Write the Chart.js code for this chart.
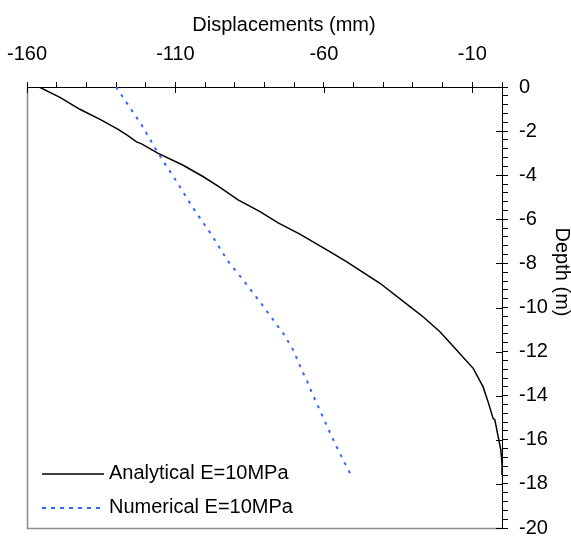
<!DOCTYPE html>
<html>
<head>
<meta charset="utf-8">
<title>Displacements vs Depth</title>
<script src="https://cdn.jsdelivr.net/npm/chart.js"></script>
<style>
  html, body { margin: 0; padding: 0; background: #fff; }
</style>
</head>
<body>
<canvas id="myChart" width="571" height="537"></canvas>
<script>
// Analytical E=10MPa (displacement mm, depth m)
let analyticalDisp = [-155.9, -148.9, -142.2, -135.4, -129.3, -125.9, -123.1, -121.4, -115.8, -107.4,
    -100.6, -95.0, -88.9, -81.5, -75.4, -68.1, -58.0, -52.4, -41.1, -31.0,
    -26.6, -20.9, -15.3, -9.7, -6.4, -4.7, -3.0, -2.4, -1.3, -0.4, 0, 0];
let analyticalDepth = [0, -0.47, -1.01, -1.47, -1.92, -2.22, -2.49, -2.58, -3.01, -3.55,
    -4.07, -4.55, -5.12, -5.65, -6.16, -6.67, -7.47, -7.92, -8.90, -9.96,
    -10.42, -11.1, -11.93, -12.76, -13.59, -14.27, -15.03, -15.1, -15.86, -16.46, -17.07, -17.6];

// Numerical E=10MPa
let numericalDisp = [-130.0, -121.4, -115.8, -109.6, -104.0, -97.8, -92.2, -87.2, -81.0, -75.4,
    -73.7, -70.3, -67.5, -65.8, -64.7, -61.9, -59.1, -56.3, -52.9, -51.2];
let numericalDepth = [0, -1.72, -3.01, -4.29, -5.50, -6.71, -7.92, -8.75, -9.84, -10.87,
    -11.17, -11.93, -12.83, -13.29, -13.66, -14.5, -15.33, -16.16, -17.07, -17.52];

let seriesLabels = ['Analytical E=10MPa', 'Numerical E=10MPa'];
let xMajorTicks = [-160, -110, -60, -10];
let yMajorTicks = [0, -2, -4, -6, -8, -10, -12, -14, -16, -18, -20];
let xTitle = 'Displacements (mm)';
let yTitle = 'Depth (m)';

const FONT = '"Liberation Sans", Arial, sans-serif';
const BLUE = '#3366ff';

function toPoints(xs, ys) {
    return xs.map((x, i) => ({ x: x, y: ys[i] }));
}

function isMajor(list, v) {
    return list.some(m => Math.abs(m - v) < 1e-6);
}

// frame, inner ticks, titles and legend
const extras = {
    id: 'extras',
    afterDraw(chart) {
        let ctx = chart.ctx;
        let area = chart.chartArea;
        let sx = chart.scales.x;
        let sy = chart.scales.y;
        ctx.save();

        ctx.strokeStyle = '#8c8c8c';
        ctx.lineWidth = 1.5;
        ctx.beginPath();
        ctx.moveTo(area.left + 0.5, area.top);
        ctx.lineTo(area.left + 0.5, area.bottom + 0.5);
        ctx.lineTo(area.right, area.bottom + 0.5);
        ctx.stroke();

        ctx.strokeStyle = '#000';
        ctx.lineWidth = 1;
        ctx.beginPath();
        xMajorTicks.forEach(v => {
            let px = Math.round(sx.getPixelForValue(v)) + 0.5;
            ctx.moveTo(px, area.top);
            ctx.lineTo(px, area.top + 6);
        });
        yMajorTicks.forEach(v => {
            let py = Math.round(sy.getPixelForValue(v)) + 0.5;
            ctx.moveTo(area.right, py);
            ctx.lineTo(area.right - 6, py);
        });
        ctx.stroke();

        ctx.fillStyle = '#000';
        ctx.font = '20px ' + FONT;
        ctx.textAlign = 'center';
        ctx.textBaseline = 'alphabetic';
        ctx.fillText(xTitle, 284, 31);

        ctx.save();
        ctx.translate(556, 272);
        ctx.rotate(Math.PI / 2);
        ctx.fillText(yTitle, 0, 0);
        ctx.restore();

        // legend
        let rows = [
            { y: 474, color: '#000', dash: [], width: 1.5 },
            { y: 508, color: BLUE, dash: [4, 5], width: 2 }
        ];
        ctx.textAlign = 'left';
        rows.forEach((r, i) => {
            ctx.strokeStyle = r.color;
            ctx.lineWidth = r.width;
            ctx.setLineDash(r.dash);
            ctx.beginPath();
            ctx.moveTo(42, r.y);
            ctx.lineTo(104, r.y);
            ctx.stroke();
            ctx.setLineDash([]);
            ctx.fillStyle = '#000';
            ctx.fillText(seriesLabels[i], 109, r.y + 5);
        });

        ctx.restore();
    }
};

Chart.defaults.font.family = FONT;
Chart.defaults.font.size = 20;
Chart.defaults.color = '#000';

new Chart(document.getElementById('myChart'), {
    type: 'scatter',
    data: {
        datasets: [{
            label: seriesLabels[0],
            data: toPoints(analyticalDisp, analyticalDepth),
            showLine: true,
            borderColor: '#000',
            borderWidth: 1.5,
            pointRadius: 0,
            tension: 0
        }, {
            label: seriesLabels[1],
            data: toPoints(numericalDisp, numericalDepth),
            showLine: true,
            borderColor: BLUE,
            borderWidth: 2,
            borderDash: [3, 6],
            pointRadius: 0,
            tension: 0
        }]
    },
    options: {
        responsive: false,
        animation: false,
        layout: {
            padding: { left: 27, right: 0, top: 0, bottom: 9 }
        },
        plugins: {
            legend: { display: false },
            tooltip: { enabled: false }
        },
        scales: {
            x: {
                type: 'linear',
                position: 'top',
                min: -160,
                max: 0,
                afterFit: scale => {
                    scale.height = 87;
                    scale.paddingLeft = 0;
                    scale.paddingRight = 0;
                },
                border: { display: true, color: '#000', width: 1 },
                grid: { drawOnChartArea: false, tickLength: 5, tickColor: '#000' },
                ticks: {
                    stepSize: 10,
                    autoSkip: false,
                    maxRotation: 0,
                    minRotation: 0,
                    padding: 16,
                    callback: v => isMajor(xMajorTicks, v) ? String(v) : ''
                }
            },
            y: {
                type: 'linear',
                position: 'right',
                min: -20,
                max: 0,
                afterFit: scale => {
                    scale.width = 69;
                    scale.paddingTop = 0;
                    scale.paddingBottom = 0;
                },
                border: { display: true, color: '#000', width: 1 },
                grid: { drawOnChartArea: false, tickLength: 6, tickColor: '#000' },
                ticks: {
                    stepSize: 0.4,
                    autoSkip: false,
                    padding: 11,
                    callback: v => isMajor(yMajorTicks, v) ? String(Math.round(v)) : ''
                }
            }
        }
    },
    plugins: [extras]
});
</script>
</body>
</html>
